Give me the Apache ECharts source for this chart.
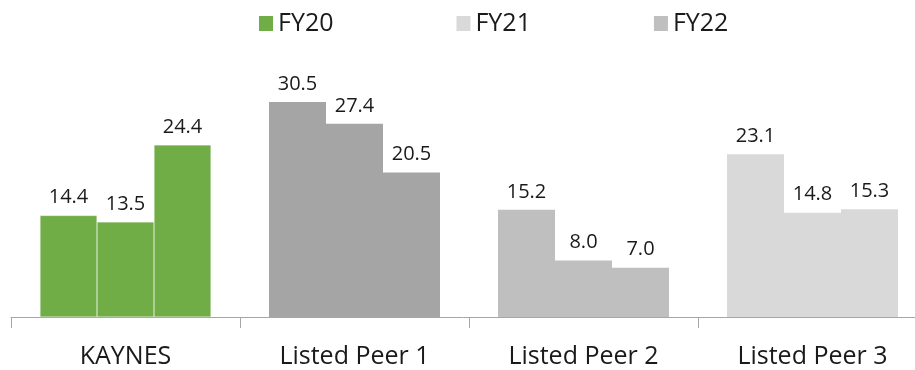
<!DOCTYPE html>
<html>
<head>
<meta charset="utf-8">
<script src="https://cdn.jsdelivr.net/npm/echarts@6/dist/echarts.min.js"></script>
<style>
  html, body { margin: 0; padding: 0; background: #fff; }
  #main { width: 915px; height: 370px; }
</style>
</head>
<body>
<div id="main"></div>
<script>
const categories = ['KAYNES', 'Listed Peer 1', 'Listed Peer 2', 'Listed Peer 3']
const seriesNames = ['FY20', 'FY21', 'FY22']
const fy20 = [14.4, 30.5, 15.2, 23.1]
const fy21 = [13.5, 27.4, 8.0, 14.8]
const fy22 = [24.4, 20.5, 7.0, 15.3]
// 每个公司一种颜色
const groupColors = ['#70AD47', '#A5A5A5', '#BFBFBF', '#D9D9D9']
const legendColors = ['#70AD47', '#D9D9D9', '#BFBFBF']

const font = 'Open Sans'

const buildSeries = (name, values, idx) => ({
  name,
  type: 'bar',
  barWidth: 57,
  barGap: '0%',
  color: legendColors[idx],
  data: values.map((v, i) => ({
    value: v,
    itemStyle: {
      color: groupColors[i],
      borderColor: i === 0 ? 'rgba(255,255,255,0.35)' : groupColors[i],
      borderWidth: i === 0 ? 0.6 : 0
    }
  })),
  label: {
    show: true,
    position: 'top',
    distance: 8,
    color: '#1a1a1a',
    fontFamily: font,
    fontSize: 20,
    formatter: p => p.value.toFixed(1)
  },
  emphasis: { disabled: true }
})

const chart = echarts.init(document.getElementById('main'))
chart.setOption({
  animation: false,
  legend: {
    top: 6,
    left: 254,
    itemWidth: 14,
    itemHeight: 15,
    itemGap: 123,
    icon: 'rect',
    textStyle: { fontFamily: font, fontSize: 25, color: '#1a1a1a' },
    data: seriesNames
  },
  grid: { left: 11, top: 35, right: -12, bottom: 53, outerBoundsMode: 'none' },
  xAxis: {
    type: 'category',
    data: categories,
    axisLine: { lineStyle: { color: '#a6a6a6', width: 1 } },
    axisTick: { show: true, length: 11, lineStyle: { color: '#a6a6a6' } },
    axisLabel: { margin: 27, fontFamily: font, fontSize: 25, color: '#1a1a1a' }
  },
  yAxis: {
    type: 'value',
    min: 0,
    max: 40,
    show: false,
    splitLine: { show: false }
  },
  series: [
    buildSeries(seriesNames[0], fy20, 0),
    buildSeries(seriesNames[1], fy21, 1),
    buildSeries(seriesNames[2], fy22, 2)
  ]
})
</script>
</body>
</html>
